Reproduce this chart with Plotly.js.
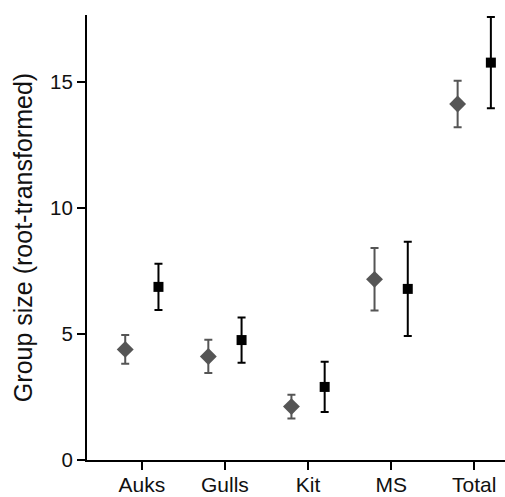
<!DOCTYPE html>
<html><head><meta charset="utf-8">
<script src="https://cdn.plot.ly/plotly-3.0.1.min.js"></script>
<style>html,body{margin:0;padding:0;background:#fff}#chart{width:505px;height:497px}</style>
</head><body><div id="chart"></div>
<script>
const categories = ["Auks", "Gulls", "Kit", "MS", "Total"];
const greyMeans = [4.39, 4.11, 2.12, 7.17, 14.13];
const greyErr = [0.57, 0.66, 0.47, 1.24, 0.92];
const blackMeans = [6.87, 4.76, 2.90, 6.79, 15.77];
const blackErr = [0.92, 0.90, 1.0, 1.87, 1.81];
const yTicks = [0, 5, 10, 15];

const traces = [
  {type:'scatter', mode:'markers', x:categories, y:greyMeans, offsetgroup:'a',
   marker:{symbol:'diamond', size:13, color:'#555555'},
   error_y:{type:'data', array:greyErr, visible:true, color:'#555555', thickness:2, width:4},
   showlegend:false, cliponaxis:false},
  {type:'scatter', mode:'markers', x:categories, y:blackMeans, offsetgroup:'b',
   marker:{symbol:'square', size:10, color:'#000000'},
   error_y:{type:'data', array:blackErr, visible:true, color:'#000000', thickness:2, width:4},
   showlegend:false, cliponaxis:false}
];

const layout = {
  width:505, height:497,
  margin:{l:87, r:0, t:15, b:37},
  paper_bgcolor:'#fff', plot_bgcolor:'#fff',
  scattermode:'group', scattergap:0.2,
  font:{family:'Liberation Sans, Arial, sans-serif', color:'#111', size:18},
  xaxis:{type:'category', range:[-0.66, 4.37], showgrid:false, zeroline:false,
    showline:true, linecolor:'#000', linewidth:2, ticks:'outside', ticklen:8, tickwidth:2,
    tickcolor:'#000', tickfont:{size:21}, ticklabelstandoff:-3, automargin:false},
  yaxis:{range:[0, 17.66], tickvals:yTicks, showgrid:false, zeroline:false,
    showline:true, linecolor:'#000', linewidth:2, ticks:'outside', ticklen:8, tickwidth:1.5,
    tickcolor:'#000', tickfont:{size:20.5}, automargin:false,
    title:{text:'Group size (root-transformed)', font:{size:25}, standoff:10}}
};
Plotly.newPlot('chart', traces, layout, {displayModeBar:false, staticPlot:true});
</script></body></html>
